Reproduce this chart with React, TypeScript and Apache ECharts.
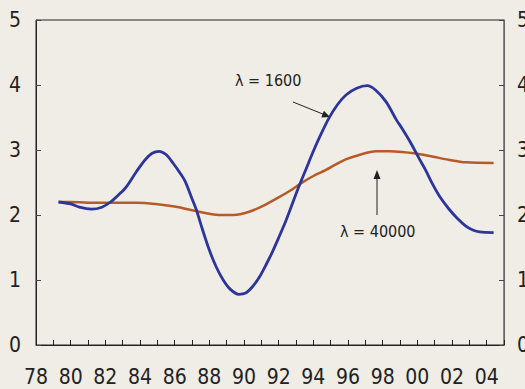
import React, { useEffect, useRef } from "react";
import * as echarts from "echarts";

const blueYears = [1979.3, 1980.0, 1980.5, 1981.2, 1981.8, 1982.3, 1982.8, 1983.2, 1983.8, 1984.3, 1984.7, 1985.1, 1985.5, 1985.9, 1986.3, 1986.6, 1987.0, 1987.25, 1987.6, 1988.0, 1988.4, 1988.8, 1989.2, 1989.7, 1990.1, 1990.5, 1990.9, 1991.3, 1991.6, 1992.0, 1992.4, 1992.8, 1993.2, 1993.6, 1993.95, 1994.4, 1994.9, 1995.4, 1995.9, 1996.5, 1997.1, 1997.6, 1998.2, 1998.8, 1999.1, 1999.6, 2000.1, 2000.5, 2000.85, 2001.3, 2001.8, 2002.3, 2002.8, 2003.2, 2003.6, 2004.4];
const blueValues = [2.2, 2.17, 2.12, 2.09, 2.12, 2.2, 2.32, 2.43, 2.67, 2.85, 2.95, 2.98, 2.93, 2.8, 2.65, 2.52, 2.25, 2.08, 1.78, 1.46, 1.2, 1.0, 0.86, 0.78, 0.8, 0.9, 1.05, 1.25, 1.41, 1.65, 1.9, 2.18, 2.46, 2.72, 2.95, 3.22, 3.49, 3.7, 3.85, 3.95, 3.99, 3.92, 3.74, 3.46, 3.34, 3.12, 2.87, 2.68, 2.49, 2.28, 2.1, 1.95, 1.83, 1.77, 1.74, 1.73];

const brownYears = [1979.3, 1980.0, 1981.0, 1982.0, 1983.0, 1983.8, 1984.9, 1986.0, 1987.25, 1988.0, 1988.6, 1989.4, 1990.3, 1991.1, 1992.0, 1992.7, 1993.3, 1994.0, 1994.7, 1995.3, 1995.9, 1996.6, 1997.6, 1998.4, 1999.1, 1999.8, 2000.85, 2001.8, 2002.8, 2004.4];
const brownValues = [2.2, 2.2, 2.19, 2.19, 2.19, 2.19, 2.17, 2.13, 2.06, 2.02, 2.0, 2.0, 2.05, 2.14, 2.27, 2.38, 2.49, 2.6, 2.69, 2.78, 2.86, 2.92, 2.98, 2.98, 2.97, 2.95, 2.9, 2.85, 2.81, 2.8];

const yTicks = [0, 1, 2, 3, 4, 5];
const xMin = 1978;
const xMax = 2005;
const label1600 = "λ = 1600";
const label40000 = "λ = 40000";

const FONT = "'Liberation Sans Narrow', 'DejaVu Sans Condensed', 'Arial Narrow', 'Liberation Sans', sans-serif";
const BG = "#f0ede6";
const BLUE = "#2c359c";
const BROWN = "#b65a2a";

export default function App() {
  const ref = useRef<HTMLDivElement>(null);
  useEffect(() => {
    if (!ref.current) return;
    const chart = echarts.init(ref.current, undefined, { renderer: "svg" });
    const xLabel = (v: number) =>
      v % 2 === 0 && v < xMax ? String(v).slice(2) : "";
    const yLabelStyle = { fontFamily: FONT, fontSize: 21, color: "#222" };
    chart.setOption({
      animation: false,
      backgroundColor: BG,
      grid: {
        left: 36,
        right: 21,
        top: 20,
        bottom: 44,
        containLabel: false,
        outerBoundsMode: "none",
        show: true,
        borderColor: "#222",
        borderWidth: 1,
        backgroundColor: "transparent",
      },
      xAxis: {
        type: "value",
        min: xMin,
        max: xMax,
        interval: 1,
        splitLine: { show: false },
        axisLine: { show: true, lineStyle: { color: "#222", width: 1 } },
        axisTick: { show: true, inside: true, length: 5, lineStyle: { color: "#222" } },
        axisLabel: {
          formatter: xLabel,
          margin: 21,
          fontFamily: FONT,
          fontSize: 21,
          color: "#222",
          showMaxLabel: true,
          showMinLabel: true,
        },
      },
      yAxis: [
        {
          type: "value",
          min: yTicks[0],
          max: yTicks[yTicks.length - 1],
          interval: 1,
          splitLine: { show: false },
          axisLine: { show: true, lineStyle: { color: "#222" } },
          axisTick: { show: true, inside: true, length: 5, lineStyle: { color: "#444" } },
          axisLabel: { margin: 15, ...yLabelStyle },
        },
        {
          type: "value",
          position: "right",
          min: yTicks[0],
          max: yTicks[yTicks.length - 1],
          interval: 1,
          splitLine: { show: false },
          axisLine: { show: true, lineStyle: { color: "#666" } },
          axisTick: { show: true, inside: true, length: 5, lineStyle: { color: "#444" } },
          axisLabel: { margin: 13, ...yLabelStyle },
        },
      ],
      series: [
        {
          type: "line",
          name: label40000,
          data: brownYears.map((x, i) => [x, brownValues[i]]),
          showSymbol: false,
          smooth: 0.3,
          lineStyle: { color: BROWN, width: 2.5 },
          z: 2,
        },
        {
          type: "line",
          name: label1600,
          data: blueYears.map((x, i) => [x, blueValues[i]]),
          showSymbol: false,
          smooth: 0.3,
          lineStyle: { color: BLUE, width: 2.8 },
          z: 3,
        },
      ],
      graphic: [
        {
          type: "text",
          left: 235,
          top: 72,
          style: { text: label1600, fontFamily: FONT, fontSize: 16, fill: "#222" },
        },
        {
          type: "line",
          shape: { x1: 293, y1: 102, x2: 324, y2: 114.5 },
          style: { stroke: "#222", lineWidth: 1 },
        },
        {
          type: "polygon",
          shape: { points: [[330, 117], [321.3, 117.4], [323.9, 110.8]] },
          style: { fill: "#222" },
        },
        {
          type: "text",
          left: 340,
          top: 223,
          style: { text: label40000, fontFamily: FONT, fontSize: 16, fill: "#222" },
        },
        {
          type: "line",
          shape: { x1: 377, y1: 215, x2: 377, y2: 178 },
          style: { stroke: "#222", lineWidth: 1 },
        },
        {
          type: "polygon",
          shape: { points: [[377, 170], [373.5, 179], [380.5, 179]] },
          style: { fill: "#222" },
        },
      ],
    });
    return () => chart.dispose();
  }, []);
  return (
    <div
      ref={ref}
      style={{ position: "fixed", left: 0, top: 0, width: 525, height: 389, background: BG }}
    />
  );
}
